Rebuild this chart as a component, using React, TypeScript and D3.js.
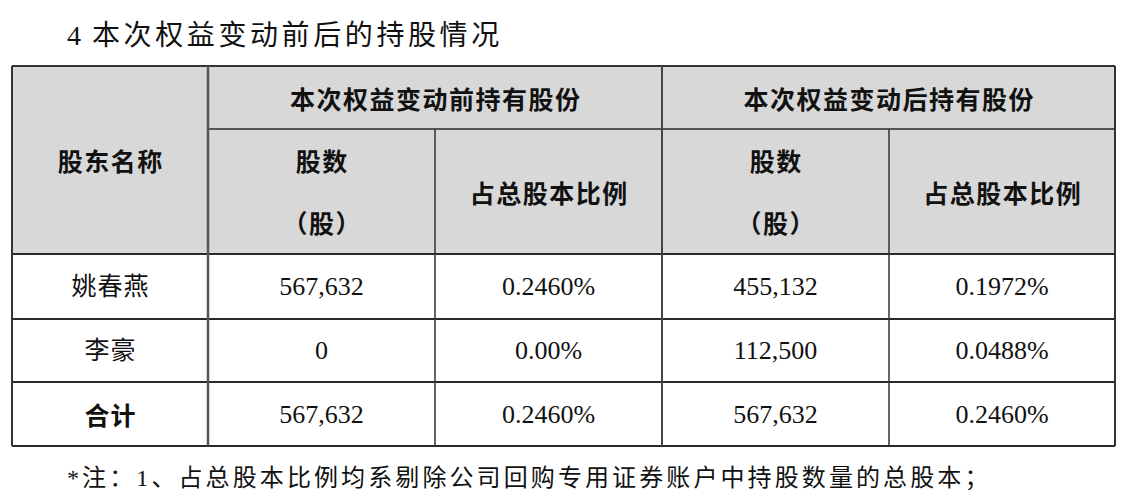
import React, { useEffect, useRef } from "react";
import * as d3 from "d3";

// ---- data ----
const titleNumber = "4";
const titleText = "本次权益变动前后的持股情况";
const groupHeaders = ["本次权益变动前持有股份", "本次权益变动后持有股份"];
const nameHeader = "股东名称";
const sharesHeader = ["股数", "（股）"];
const ratioHeader = "占总股本比例";
const shareholders = ["姚春燕", "李豪", "合计"];
const sharesBefore = [567632, 0, 567632];
const ratioBefore = ["0.2460%", "0.00%", "0.2460%"];
const sharesAfter = [455132, 112500, 567632];
const ratioAfter = ["0.1972%", "0.0488%", "0.2460%"];
const footnote = "*注：1、占总股本比例均系剔除公司回购专用证券账户中持股数量的总股本；";

// ---- layout ----
const W = 1128;
const H = 490;
const colEdges = [12, 208, 435, 662, 889, 1115];
const rowEdges = [66, 129, 254, 319, 382, 446];
const serif = "'Liberation Serif', 'Times New Roman', 'Noto Sans CJK SC', serif";
const heiti = "'Noto Sans CJK SC', sans-serif";

export default function App() {
  const ref = useRef<SVGSVGElement | null>(null);

  useEffect(() => {
    const svg = d3.select(ref.current);
    svg.selectAll("*").remove();

    const colIdx = d3.range(colEdges.length);
    const x = d3.scaleLinear().domain(colIdx).range(colEdges);
    const y = d3.scaleLinear().domain(d3.range(rowEdges.length)).range(rowEdges);
    const cx = (i: number, j: number) => (x(i) + x(j)) / 2;
    const cy = (i: number, j: number) => (y(i) + y(j)) / 2;
    const fmt = d3.format(",");

    // header background
    svg
      .append("rect")
      .attr("x", x(0))
      .attr("y", y(0))
      .attr("width", x(5) - x(0))
      .attr("height", y(2) - y(0))
      .attr("fill", "#d8d8d8");

    const g = svg.append("g");

    // title
    g.append("text")
      .attr("x", 67)
      .attr("y", 35)
      .attr("dominant-baseline", "central")
      .attr("font-family", serif)
      .attr("font-size", 28)
      .attr("fill", "#111")
      .text(titleNumber);
    g.append("text")
      .attr("x", 92)
      .attr("y", 35)
      .attr("dominant-baseline", "central")
      .attr("font-family", serif)
      .attr("font-size", 28)
      .attr("letter-spacing", 3.6)
      .attr("fill", "#111")
      .text(titleText);

    const cellText = (
      tx: number,
      ty: number,
      t: string,
      family: string,
      weight: string | number,
      size = 26,
      spacing = 0
    ) =>
      g
        .append("text")
        .attr("x", tx + spacing / 2)
        .attr("y", ty)
        .attr("text-anchor", "middle")
        .attr("dominant-baseline", "central")
        .attr("font-family", family)
        .attr("font-weight", weight)
        .attr("font-size", size)
        .attr("letter-spacing", spacing)
        .attr("fill", "#111")
        .text(t);

    // headers
    cellText(cx(0, 1), cy(0, 2), nameHeader, heiti, 700, 25, 1.5);
    groupHeaders.forEach((h, k) => {
      cellText(cx(1 + 2 * k, 3 + 2 * k), cy(0, 1), h, heiti, 700, 25, 1.5);
      cellText(cx(1 + 2 * k, 2 + 2 * k), 160, sharesHeader[0], heiti, 700, 25, 1.5);
      cellText(cx(1 + 2 * k, 2 + 2 * k), 222, sharesHeader[1], heiti, 700, 25, 1.5);
      cellText(cx(2 + 2 * k, 3 + 2 * k), cy(1, 2), ratioHeader, heiti, 700, 25, 1.5);
    });

    // body
    shareholders.forEach((name, r) => {
      const isTotal = r === shareholders.length - 1;
      const yy = cy(2 + r, 3 + r);
      cellText(cx(0, 1), yy, name, isTotal ? heiti : serif, isTotal ? 700 : 400, 25, 1);
      cellText(cx(1, 2), yy, fmt(sharesBefore[r]), serif, 400);
      cellText(cx(2, 3), yy, ratioBefore[r], serif, 400);
      cellText(cx(3, 4), yy, fmt(sharesAfter[r]), serif, 400);
      cellText(cx(4, 5), yy, ratioAfter[r], serif, 400);
    });

    // grid lines
    const lines = svg.append("g");
    const hLine = (y0: number, x0: number, x1: number, w = 2, c = "#2a2a2a") =>
      lines
        .append("line")
        .attr("x1", x0)
        .attr("x2", x1)
        .attr("y1", y0)
        .attr("y2", y0)
        .attr("stroke", c)
        .attr("stroke-width", w);
    const vLine = (x0: number, y0: number, y1: number, w = 2, c = "#555") =>
      lines
        .append("line")
        .attr("x1", x0)
        .attr("x2", x0)
        .attr("y1", y0)
        .attr("y2", y1)
        .attr("stroke", c)
        .attr("stroke-width", w);

    hLine(y(0), x(0), x(5), 2, "#333");
    hLine(y(1), x(1), x(5), 1.5);
    hLine(y(2), x(0), x(5), 2);
    hLine(y(3), x(0), x(5), 2);
    hLine(y(4), x(0), x(5), 2);
    hLine(y(5), x(0), x(5), 2);

    vLine(x(0), y(0), y(5), 2, "#333");
    vLine(x(1), y(0), y(5), 2.5);
    vLine(x(2), y(1), y(5), 1.5, "#333");
    vLine(x(3), y(0), y(5), 2, "#444");
    vLine(x(4), y(1), y(5), 1.5, "#333");
    vLine(x(5), y(0), y(5), 2, "#333");

    // footnote
    svg
      .append("text")
      .attr("x", 67)
      .attr("y", 478)
      .attr("dominant-baseline", "central")
      .attr("font-family", serif)
      .attr("font-size", 24)
      .attr("letter-spacing", 3.1)
      .attr("fill", "#111")
      .text(footnote);
  }, []);

  return (
    <svg
      ref={ref}
      width={W}
      height={H}
      style={{ position: "absolute", left: 0, top: 0, background: "#fff" }}
    />
  );
}
